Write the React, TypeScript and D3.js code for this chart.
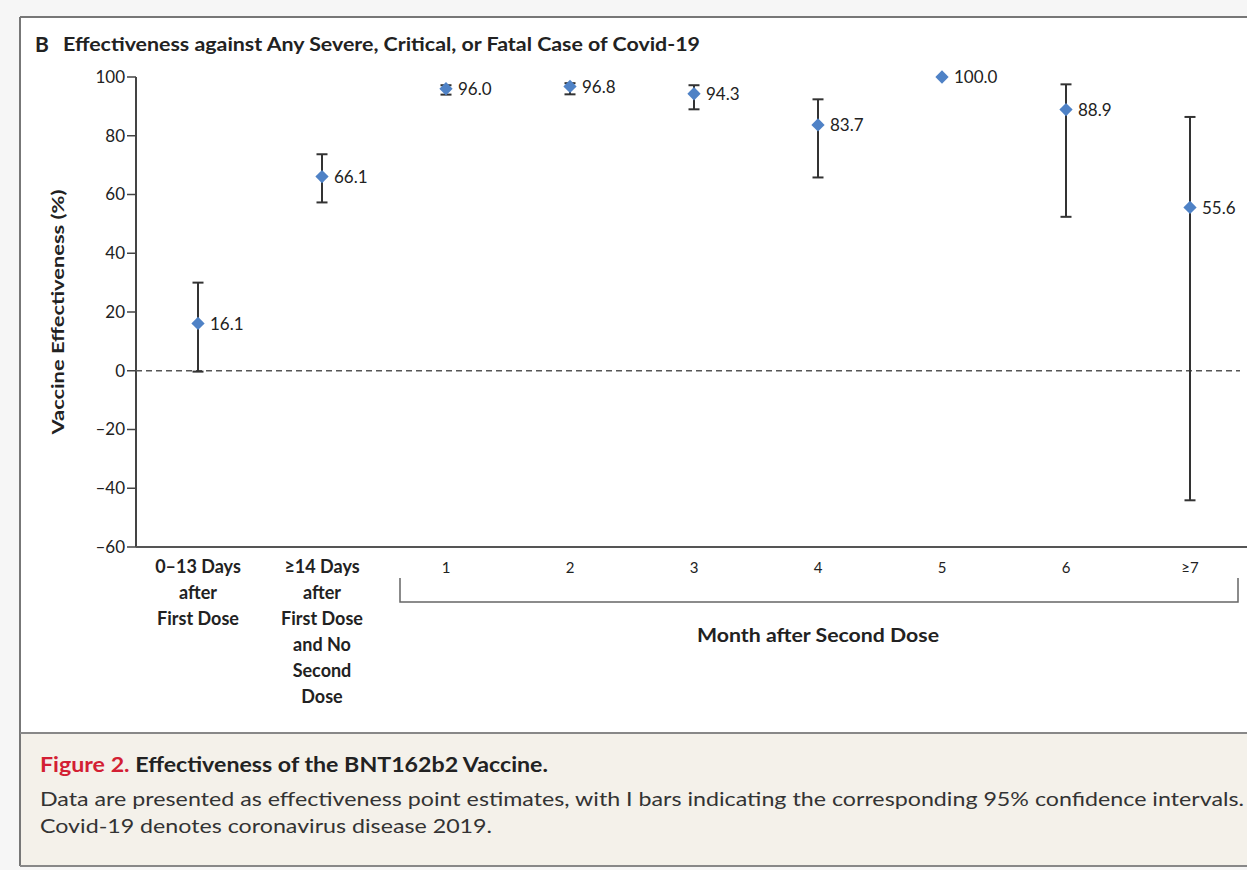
import React from 'react';
import * as d3 from 'd3';

// categories along the x axis (one entry per group of lines)
const categoryKeys = ['d0_13', 'd14', 'm1', 'm2', 'm3', 'm4', 'm5', 'm6', 'm7'];
const categoryLines = [
  ['0–13 Days', 'after', 'First Dose'],
  ['≥14 Days', 'after', 'First Dose', 'and No', 'Second', 'Dose'],
  ['1'], ['2'], ['3'], ['4'], ['5'], ['6'], ['≥7'],
];
const boldCategory = [true, true, false, false, false, false, false, false, false];

// point estimates and 95% CI
const estimates = [16.1, 66.1, 96.0, 96.8, 94.3, 83.7, 100.0, 88.9, 55.6];
const ciLower = [-0.3, 57.3, 94.0, 94.1, 89.0, 65.8, null, 52.4, -44.1];
const ciUpper = [30.0, 73.7, 97.2, 97.9, 97.2, 92.4, null, 97.5, 86.4];

const yTicks = [100, 80, 60, 40, 20, 0, -20, -40, -60];

const W = 1247;
const H = 870;
const font = 'Lato, "Open Sans", sans-serif';
const ink = '#222';

const App = () => {
  const x = d3.scalePoint<string>().domain(categoryKeys).range([198, 1190]);
  const y = d3.scaleLinear().domain([-60, 100]).range([547, 77]);
  const fmt = d3.format('.1f');
  const diamond = d3.symbol().type(d3.symbolSquare).size(88)();
  const axisX = 136;

  return (
    <svg width={W} height={H} style={{ position: 'absolute', left: 0, top: 0, display: 'block' }}>
      {/* page background and figure box */}
      <rect x={0} y={0} width={W} height={H} fill="#f6f6f6" />
      <rect x={20} y={17} width={W - 20} height={716} fill="#fff" />
      <rect x={20} y={733} width={W - 20} height={133} fill="#f4f1ea" />
      <line x1={20} x2={W} y1={17} y2={17} stroke="#777" strokeWidth={2} />
      <line x1={20} x2={20} y1={17} y2={866} stroke="#777" strokeWidth={2} />
      <line x1={20} x2={W} y1={733} y2={733} stroke="#888" strokeWidth={2} />
      <line x1={20} x2={W} y1={866} y2={866} stroke="#888" strokeWidth={2} />

      {/* panel title */}
      <text x={35} y={52} fontFamily={font} fontWeight={700} fontSize={21} fill={ink}>B</text>
      <text x={63} y={51} fontFamily={font} fontWeight={700} fontSize={18} fill={ink}
        textLength={637} lengthAdjust="spacingAndGlyphs">
        Effectiveness against Any Severe, Critical, or Fatal Case of Covid-19
      </text>

      {/* y axis */}
      <line x1={axisX} x2={axisX} y1={y(100)} y2={y(-60)} stroke="#444" strokeWidth={2} />
      {yTicks.map((t) => (
        <g key={t} transform={`translate(${axisX},${y(t)})`}>
          <line x1={-9} x2={0} stroke="#444" strokeWidth={1.5} />
          <text x={-11} dy="0.35em" textAnchor="end" fontFamily={font} fontSize={17} fill={ink}>
            {d3.format('d')(t).replace('−', '–')}
          </text>
        </g>
      ))}
      <text transform={`translate(64,312) rotate(-90)`} textAnchor="middle" fontFamily={font}
        fontWeight={700} fontSize={17} fill={ink} textLength={245} lengthAdjust="spacingAndGlyphs">
        Vaccine Effectiveness (%)
      </text>

      {/* x axis and zero reference */}
      <line x1={axisX} x2={W} y1={y(-60)} y2={y(-60)} stroke="#555" strokeWidth={2} />
      <line x1={axisX} x2={1240} y1={y(0)} y2={y(0)} stroke="#555" strokeWidth={1.3}
        strokeDasharray="6,4" />

      {/* category labels */}
      {categoryKeys.map((k, i) => (
        <text key={k} x={x(k)} textAnchor="middle" fontFamily={font} fill={ink}
          fontWeight={boldCategory[i] ? 700 : 400} fontSize={boldCategory[i] ? 18 : 15}>
          {categoryLines[i].map((ln, j) => (
            <tspan key={j} x={x(k)} y={573 + j * 26}>{ln}</tspan>
          ))}
        </text>
      ))}
      <path d="M400,578V602H1238V578" fill="none" stroke="#666" strokeWidth={1.5} />
      <text x={818} y={642} textAnchor="middle" fontFamily={font} fontWeight={700} fontSize={18}
        fill={ink} textLength={242} lengthAdjust="spacingAndGlyphs">
        Month after Second Dose
      </text>

      {/* confidence intervals */}
      {categoryKeys.map((k, i) => {
        const lo = ciLower[i];
        const hi = ciUpper[i];
        if (lo == null || hi == null) return null;
        const cx = x(k) as number;
        return (
          <g key={k} stroke="#333" strokeWidth={2}>
            <line x1={cx} x2={cx} y1={y(lo)} y2={y(hi)} />
            <line x1={cx - 5.5} x2={cx + 5.5} y1={y(lo)} y2={y(lo)} />
            <line x1={cx - 5.5} x2={cx + 5.5} y1={y(hi)} y2={y(hi)} />
          </g>
        );
      })}

      {/* point estimates */}
      {categoryKeys.map((k, i) => (
        <g key={k} transform={`translate(${x(k)},${y(estimates[i])})`}>
          <path d={diamond as string} transform="rotate(45)" fill="#4f82c6" />
          <text x={12} dy="0.36em" fontFamily={font} fontSize={17} fill={ink}>
            {fmt(estimates[i])}
          </text>
        </g>
      ))}

      {/* caption */}
      <text x={40} y={772} fontFamily={font} fontWeight={700} fontSize={20} fill={ink}
        textLength={508} lengthAdjust="spacingAndGlyphs">
        <tspan fill="#d31f34">Figure 2.</tspan> Effectiveness of the BNT162b2 Vaccine.
      </text>
      <text x={40} y={806} fontFamily={font} fontSize={19} fill="#333"
        textLength={1204} lengthAdjust="spacingAndGlyphs">
        Data are presented as effectiveness point estimates, with I bars indicating the corresponding 95% confidence intervals.
      </text>
      <text x={40} y={833} fontFamily={font} fontSize={19} fill="#333"
        textLength={452} lengthAdjust="spacingAndGlyphs">
        Covid-19 denotes coronavirus disease 2019.
      </text>
    </svg>
  );
};

export default App;
